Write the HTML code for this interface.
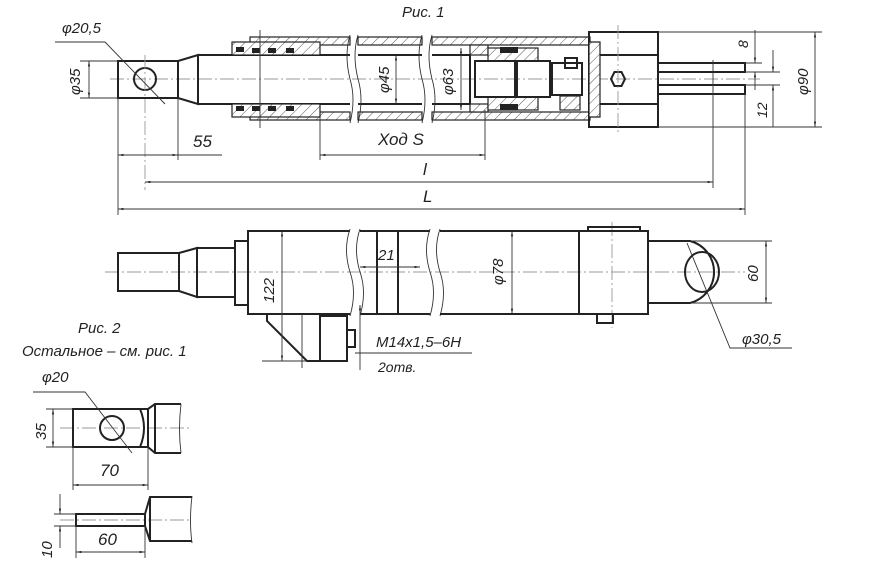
<!DOCTYPE html>
<html><head><meta charset="utf-8"><style>
html,body{margin:0;padding:0;background:#fff;}
svg{display:block}
text{font-family:"Liberation Sans",sans-serif;font-style:italic;fill:#222;}
.o{stroke:#222;stroke-width:2;fill:none}
.t{stroke:#333;stroke-width:0.9;fill:none}
.c{stroke:#999;stroke-width:0.9;fill:none;stroke-dasharray:14 3 2 3}
.h{fill:url(#hatch);stroke:#222;stroke-width:1.2}
</style></head><body>
<svg width="877" height="574" viewBox="0 0 877 574" xmlns="http://www.w3.org/2000/svg">
<defs>
<pattern id="hatch" width="7" height="7" patternUnits="userSpaceOnUse" patternTransform="rotate(45)">
<rect width="7" height="7" fill="#fff"/><line x1="0" y1="0" x2="0" y2="7" stroke="#444" stroke-width="0.9"/></pattern>
<marker id="a" viewBox="0 0 10 10" refX="10" refY="5" markerWidth="9" markerHeight="6" orient="auto-start-reverse"><path d="M0,3 L10,5 L0,7z" fill="#222"/></marker>
</defs>

<!-- ===== FIG 1 (top) ===== -->
<text x="402" y="17" font-size="15">Рис. 1</text>
<line class="c" x1="110" y1="79" x2="760" y2="79"/>
<!-- eye -->
<rect class="o" x="118" y="61" width="60" height="37"/>
<circle class="o" cx="145" cy="79" r="11"/>
<line class="c" x1="145" y1="55" x2="145" y2="190"/>
<path class="o" d="M178,61 L198,55 L198,104 L178,98"/>
<!-- rod -->
<line class="o" x1="198" y1="55" x2="350" y2="55"/>
<line class="o" x1="198" y1="104" x2="350" y2="104"/>
<line class="o" x1="358" y1="55" x2="422" y2="55"/>
<line class="o" x1="358" y1="104" x2="422" y2="104"/>
<line class="o" x1="432" y1="55" x2="470" y2="55"/>
<line class="o" x1="432" y1="104" x2="470" y2="104"/>
<!-- cylinder walls hatched -->
<rect class="h" x="250" y="37" width="100" height="8"/>
<rect class="h" x="250" y="112" width="100" height="8"/>
<rect class="h" x="358" y="37" width="64" height="8"/>
<rect class="h" x="358" y="112" width="64" height="8"/>
<rect class="h" x="432" y="37" width="158" height="8"/>
<rect class="h" x="432" y="112" width="158" height="8"/>
<!-- gland -->
<rect class="h" x="232" y="42" width="88" height="13"/>
<rect class="h" x="232" y="104" width="88" height="13"/>
<g fill="#222"><rect x="236" y="47" width="8" height="5"/><rect x="252" y="48" width="8" height="5"/><rect x="268" y="48" width="8" height="5"/><rect x="286" y="48" width="8" height="5"/>
<rect x="236" y="106" width="8" height="5"/><rect x="252" y="106" width="8" height="5"/><rect x="268" y="106" width="8" height="5"/><rect x="286" y="106" width="8" height="5"/></g>
<line class="t" x1="260" y1="30" x2="260" y2="128"/>
<!-- breaks -->
<path class="t" d="M350,35 q-6,20 0,44 q6,20 0,44 M358,35 q-6,20 0,44 q6,20 0,44"/>
<path class="t" d="M422,35 q-6,20 0,44 q6,20 0,44 M432,35 q-6,20 0,44 q6,20 0,44"/>
<!-- piston -->
<rect class="h" x="470" y="45" width="18" height="10"/>
<rect class="h" x="470" y="104" width="18" height="8"/>
<rect class="h" x="488" y="48" width="50" height="13"/>
<rect class="h" x="488" y="97" width="50" height="13"/>
<line class="o" x1="470" y1="55" x2="470" y2="104"/>
<rect class="o" x="475" y="61" width="40" height="36"/>
<rect class="o" x="517" y="61" width="33" height="36"/>
<rect class="o" x="552" y="63" width="30" height="32"/>
<rect class="h" x="560" y="96" width="20" height="14"/>
<rect class="o" x="565" y="58" width="12" height="10"/>
<rect x="500" y="47" width="18" height="6" fill="#222"/><rect x="500" y="104" width="18" height="6" fill="#222"/>
<!-- head block -->
<rect class="o" x="589" y="32" width="69" height="95"/>
<polygon class="h" points="589,42 600,42 600,117 589,117"/>
<line class="o" x1="600" y1="55" x2="658" y2="55"/>
<line class="o" x1="600" y1="104" x2="658" y2="104"/>
<polygon class="o" points="611,79 614.5,72 621.5,72 625,79 621.5,86 614.5,86"/>
<line class="c" x1="618" y1="25" x2="618" y2="132"/>
<!-- pipes -->
<rect class="o" x="658" y="63" width="87" height="9"/>
<rect class="o" x="658" y="85" width="87" height="9"/>
<!-- dims top -->
<path class="t" d="M55,42 H105 L165,104"/>
<text x="62" y="33" font-size="15">φ20,5</text>
<line class="t" x1="80" y1="61" x2="118" y2="61"/><line class="t" x1="80" y1="98" x2="118" y2="98"/>
<line class="t" x1="89" y1="61" x2="89" y2="98" marker-start="url(#a)" marker-end="url(#a)"/>
<text transform="translate(80,95) rotate(-90)" font-size="15">φ35</text>
<line class="t" x1="118" y1="98" x2="118" y2="215"/>
<line class="t" x1="178" y1="98" x2="178" y2="160"/>
<line class="t" x1="118" y1="155" x2="178" y2="155" marker-start="url(#a)" marker-end="url(#a)"/>
<line class="t" x1="178" y1="155" x2="222" y2="155"/>
<text x="193" y="147" font-size="17">55</text>
<line class="t" x1="320" y1="117" x2="320" y2="160"/>
<line class="t" x1="485" y1="110" x2="485" y2="160"/>
<line class="t" x1="320" y1="155" x2="485" y2="155" marker-start="url(#a)" marker-end="url(#a)"/>
<text x="378" y="145" font-size="17">Ход S</text>
<line class="t" x1="713" y1="60" x2="713" y2="188"/>
<line class="t" x1="145" y1="182" x2="713" y2="182" marker-start="url(#a)" marker-end="url(#a)"/>
<text x="423" y="175" font-size="17">l</text>
<line class="t" x1="745" y1="94" x2="745" y2="215"/>
<line class="t" x1="118" y1="209" x2="745" y2="209" marker-start="url(#a)" marker-end="url(#a)"/>
<text x="423" y="202" font-size="17">L</text>
<line class="t" x1="396" y1="55" x2="396" y2="104" marker-start="url(#a)" marker-end="url(#a)"/>
<text transform="translate(389,93) rotate(-90)" font-size="15">φ45</text>
<line class="t" x1="461" y1="48" x2="461" y2="110" marker-start="url(#a)" marker-end="url(#a)"/>
<text transform="translate(453,95) rotate(-90)" font-size="15">φ63</text>
<line class="t" x1="658" y1="32" x2="822" y2="32"/><line class="t" x1="658" y1="127" x2="822" y2="127"/>
<line class="t" x1="815" y1="32" x2="815" y2="127" marker-start="url(#a)" marker-end="url(#a)"/>
<text transform="translate(808,95) rotate(-90)" font-size="15">φ90</text>
<line class="t" x1="745" y1="63" x2="762" y2="63"/><line class="t" x1="745" y1="72" x2="780" y2="72"/>
<line class="t" x1="745" y1="85" x2="780" y2="85"/>
<line class="t" x1="755" y1="30" x2="755" y2="63" marker-end="url(#a)"/>
<line class="t" x1="755" y1="90" x2="755" y2="72" marker-end="url(#a)"/>
<text transform="translate(748,48) rotate(-90)" font-size="14">8</text>
<line class="t" x1="773" y1="50" x2="773" y2="72" marker-end="url(#a)"/>
<line class="t" x1="773" y1="127" x2="773" y2="85" marker-end="url(#a)"/>
<text transform="translate(767,118) rotate(-90)" font-size="14">12</text>

<!-- ===== Side view ===== -->
<line class="c" x1="105" y1="272" x2="745" y2="272"/>
<rect class="o" x="118" y="253" width="61" height="38"/>
<path class="o" d="M179,253 L197,248 L197,297 L179,291"/>
<rect class="o" x="197" y="248" width="38" height="49"/>
<rect class="o" x="235" y="241" width="13" height="64"/>
<path class="o" d="M350,231 H248 V314 H350"/>
<path class="o" d="M360,231 H430 M360,314 H430"/>
<line class="o" x1="377" y1="231" x2="377" y2="314"/><line class="o" x1="398" y1="231" x2="398" y2="314"/>
<path class="t" d="M350,229 q-7,20 0,43 q7,20 0,44 M360,229 q-7,20 0,43 q7,20 0,44"/>
<path class="t" d="M430,229 q-7,20 0,43 q7,20 0,44 M440,229 q-7,20 0,43 q7,20 0,44"/>
<path class="o" d="M440,231 H648 V314 H440"/>
<line class="o" x1="579" y1="231" x2="579" y2="314"/>
<line class="c" x1="612" y1="222" x2="612" y2="328"/>
<rect class="o" x="588" y="227" width="52" height="4"/>
<rect class="o" x="597" y="314" width="16" height="9"/>
<path class="o" d="M648,241 H690 A32,32 0 0 1 690,303 H648"/>
<ellipse class="o" cx="702" cy="272" rx="17" ry="20"/>
<!-- bracket -->
<path class="o" d="M267,314 V321 L307,361 H320 V314"/>
<rect class="o" x="320" y="316" width="27" height="45"/>
<rect class="o" x="347" y="330" width="8" height="17"/>
<line class="t" x1="302" y1="314" x2="302" y2="368"/>
<!-- side dims -->
<line class="t" x1="282" y1="231" x2="282" y2="361" marker-start="url(#a)" marker-end="url(#a)"/>
<line class="t" x1="262" y1="361" x2="307" y2="361"/>
<text transform="translate(274,303) rotate(-90)" font-size="15">122</text>
<line class="t" x1="360" y1="267" x2="420" y2="267" marker-start="url(#a)" marker-end="url(#a)"/>
<text x="378" y="260" font-size="15">21</text>
<line class="t" x1="512" y1="231" x2="512" y2="314" marker-start="url(#a)" marker-end="url(#a)"/>
<text transform="translate(503,285) rotate(-90)" font-size="15">φ78</text>
<line class="t" x1="690" y1="241" x2="772" y2="241"/><line class="t" x1="690" y1="303" x2="772" y2="303"/>
<line class="t" x1="766" y1="241" x2="766" y2="303" marker-start="url(#a)" marker-end="url(#a)"/>
<text transform="translate(758,282) rotate(-90)" font-size="15">60</text>
<path class="t" d="M687,243 L730,348 H792"/>
<text x="742" y="344" font-size="15">φ30,5</text>
<line class="t" x1="360" y1="305" x2="360" y2="370" marker-start="url(#a)"/>
<line class="t" x1="355" y1="353" x2="472" y2="353"/>
<text x="376" y="347" font-size="15">M14x1,5–6H</text>
<text x="378" y="372" font-size="14">2отв.</text>

<!-- ===== FIG 2 ===== -->
<text x="78" y="333" font-size="15">Рис. 2</text>
<text x="22" y="356" font-size="15">Остальное – см. рис. 1</text>
<line class="c" x1="60" y1="428" x2="190" y2="428"/>
<rect class="o" x="73" y="409" width="75" height="38"/>
<circle class="o" cx="112" cy="428" r="12"/>
<path class="o" d="M140,409 q8,19 0,38"/>
<path class="o" d="M148,409 L155,404 H181 M148,447 L155,453 H181 M155,404 V453"/>
<path class="t" d="M181,404 q-3,25 0,49"/>
<path class="t" d="M33,392 H85 L132,453"/>
<text x="42" y="382" font-size="15">φ20</text>
<line class="t" x1="46" y1="409" x2="73" y2="409"/><line class="t" x1="46" y1="447" x2="73" y2="447"/>
<line class="t" x1="53" y1="409" x2="53" y2="447" marker-start="url(#a)" marker-end="url(#a)"/>
<text transform="translate(46,440) rotate(-90)" font-size="15">35</text>
<line class="t" x1="73" y1="447" x2="73" y2="490"/><line class="t" x1="148" y1="447" x2="148" y2="490"/>
<line class="t" x1="73" y1="485" x2="148" y2="485" marker-start="url(#a)" marker-end="url(#a)"/>
<text x="100" y="476" font-size="17">70</text>
<line class="c" x1="60" y1="520" x2="190" y2="520"/>
<rect class="o" x="76" y="514" width="69" height="12"/>
<path class="o" d="M145,514 L150,497 H192 M145,526 L150,541 H192 M150,497 V541"/>
<path class="t" d="M192,496 q-3,25 0,47"/>
<line class="t" x1="54" y1="514" x2="76" y2="514"/><line class="t" x1="54" y1="526" x2="76" y2="526"/>
<line class="t" x1="60" y1="494" x2="60" y2="514" marker-end="url(#a)"/>
<line class="t" x1="60" y1="548" x2="60" y2="526" marker-end="url(#a)"/>
<text transform="translate(52,558) rotate(-90)" font-size="15">10</text>
<line class="t" x1="76" y1="526" x2="76" y2="558"/><line class="t" x1="145" y1="526" x2="145" y2="558"/>
<line class="t" x1="76" y1="552" x2="145" y2="552" marker-start="url(#a)" marker-end="url(#a)"/>
<text x="98" y="545" font-size="17">60</text>
</svg>
</body></html>
